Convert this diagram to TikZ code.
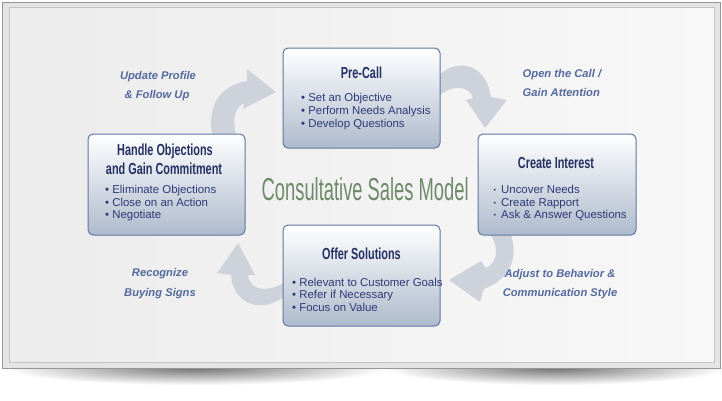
\documentclass[tikz,border=0pt]{standalone}
\usepackage{fontspec}
\usepackage{graphicx}
\setmainfont{Liberation Sans}
\definecolor{titlec}{RGB}{36,48,98}
\definecolor{bulletc}{RGB}{44,58,118}
\definecolor{labelc}{RGB}{84,106,158}
\definecolor{centerc}{RGB}{110,138,104}
\definecolor{arrowc}{RGB}{206,211,219}
\definecolor{boxedge}{RGB}{98,118,160}
\definecolor{boxbot}{RGB}{174,186,204}
\definecolor{boxmid}{RGB}{226,231,238}
\definecolor{framec}{RGB}{228,228,228}
\definecolor{frameedge}{RGB}{150,150,150}
\definecolor{innerl}{RGB}{236,236,237}
\definecolor{innerr}{RGB}{248,248,249}
\definecolor{innerline}{RGB}{196,196,196}
\newcommand{\mytitle}[1]{\scalebox{0.68}[1]{#1}}
\newcommand{\smalldot}{\makebox[7.5pt][l]{\fontsize{7}{7}\selectfont\raisebox{1pt}{•}}}
\begin{document}
\begin{tikzpicture}[x=1pt,y=-1pt,
  stagebox/.style={draw=boxedge, line width=1pt, rounded corners=5pt,
    top color=white, middle color=boxmid, bottom color=boxbot, inner sep=0pt},
  ttl/.style={anchor=base, inner sep=0pt, text=titlec, font=\bfseries\fontsize{16}{18}\selectfont},
  bul/.style={anchor=base west, inner sep=0pt, text=bulletc, font=\fontsize{11.4}{13}\selectfont},
  lab/.style={anchor=base, inner sep=0pt, text=labelc, font=\bfseries\itshape\fontsize{11.2}{13}\selectfont},
  arr/.style={fill=arrowc}]
\useasboundingbox (0,0) rectangle (722,400);
\fill[white] (0,0) rectangle (722,400);
% shadow
\shade[inner color=black!55, outer color=white] (195,368) ellipse (192 and 17);
\shade[inner color=black!55, outer color=white] (555,368) ellipse (172 and 17);
% frame
\filldraw[fill=framec, draw=frameedge, line width=0.8pt] (2,2) rectangle (720,368);
\shade[left color=innerl, right color=innerr] (9,7) rectangle (714,362);
\draw[innerline, line width=0.8pt] (9,7) rectangle (714,362);
% arrows
\fill[arr] (213,140) .. controls (206,108) and (218,86) .. (247,81) -- (247,69) -- (276,92) -- (243,109) -- (244,103) .. controls (234,108) and (232,120) .. (237,140) -- cycle;
\fill[arr] (436,78) .. controls (455,57) and (486,62) .. (491,97) -- (507,100) -- (485,128) -- (466,100) -- (473,98) .. controls (469,85) and (452,84) .. (436,98) -- cycle;
\fill[arr] (488,230) .. controls (500,248) and (498,262) .. (486,268) -- (481,261) -- (449,280) -- (480,302) -- (484,289) .. controls (512,278) and (520,255) .. (509,230) -- cycle;
\fill[arr] (288,280) .. controls (270,293) and (250,292) .. (248,275) -- (255,275) -- (238,243) -- (217,273) -- (231,275) .. controls (232,300) and (258,318) .. (288,294) -- cycle;
% boxes
\node[stagebox, minimum width=157pt, minimum height=100pt] (pre) at (361.5,98) {};
\node[stagebox, minimum width=157pt, minimum height=101pt] (hand) at (166.5,184.5) {};
\node[stagebox, minimum width=158pt, minimum height=101pt] (crea) at (557,184.5) {};
\node[stagebox, minimum width=157pt, minimum height=101pt] (offer) at (361.5,275.5) {};
% titles
\node[ttl] (preT) at (361.5,78) {\mytitle{Pre-Call}};
\node[ttl] (handT1) at (165,155) {\mytitle{Handle Objections}};
\node[ttl] (handT2) at (164,174) {\mytitle{and Gain Commitment}};
\node[ttl] (creaT) at (556,168) {\mytitle{Create Interest}};
\node[ttl] (offerT) at (361.5,259) {\mytitle{Offer Solutions}};
% bullets
\node[bul] (pre1) at (301,101.5) {• Set an Objective};
\node[bul] (pre2) at (301,114.5) {• Perform Needs Analysis};
\node[bul] (pre3) at (301,127.5) {• Develop Questions};
\node[bul] (hand1) at (105,193.5) {• Eliminate Objections};
\node[bul] (hand2) at (105,206) {• Close on an Action};
\node[bul] (hand3) at (105,218.5) {• Negotiate};
\node[bul] (crea1) at (493.5,193.5) {\smalldot Uncover Needs};
\node[bul] (crea2) at (493.5,206) {\smalldot Create Rapport};
\node[bul] (crea3) at (493.5,218.5) {\smalldot Ask \& Answer Questions};
\node[bul] (offer1) at (292,286) {• Relevant to Customer Goals};
\node[bul] (offer2) at (292,298.5) {• Refer if Necessary};
\node[bul] (offer3) at (292,311) {• Focus on Value};
% centre
\node[anchor=base west, inner sep=0pt, text=centerc] (model) at (261.5,200) {\resizebox{207pt}{23pt}{Consultative Sales Model}};
% labels
\node[lab] (upd1) at (158,79) {Update Profile};
\node[lab] (upd2) at (157,98) {\& Follow Up};
\node[lab, anchor=base west] (open1) at (522.5,77) {Open the Call /};
\node[lab, anchor=base west] (open2) at (522.5,96) {Gain Attention};
\node[lab] (rec1) at (160,276) {Recognize};
\node[lab] (rec2) at (160,296) {Buying Signs};
\node[lab] (adj1) at (560,277) {Adjust to Behavior \&};
\node[lab] (adj2) at (560,296) {Communication Style};
\end{tikzpicture}
\end{document}
